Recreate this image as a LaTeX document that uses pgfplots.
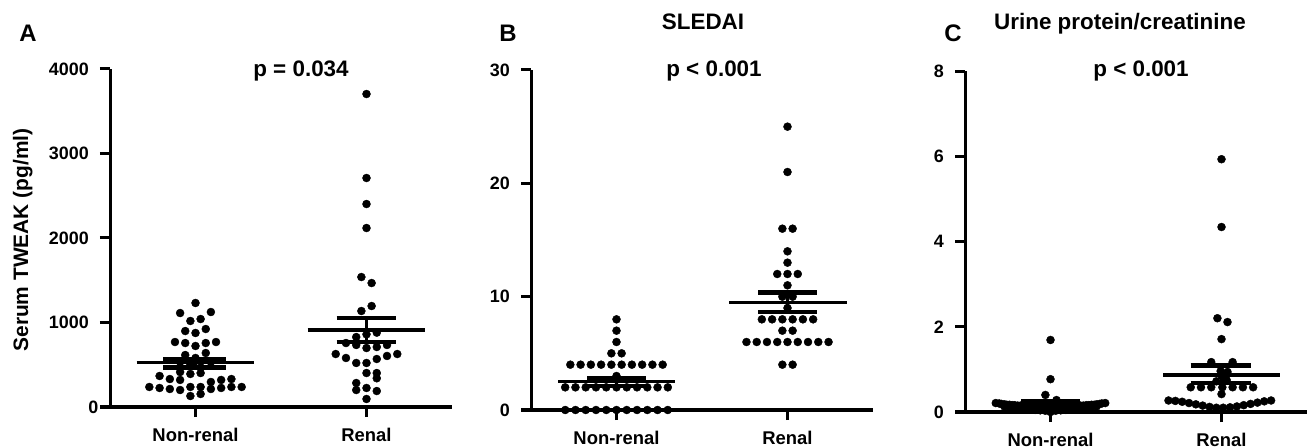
\documentclass[border=0pt]{standalone}
\usepackage{fontspec}
\setmainfont{Liberation Sans}
\usepackage{pgfplots}
\pgfplotsset{compat=1.18}

\newcommand{\tl}[1]{{\bfseries\fontsize{18}{18}\selectfont #1}}

\pgfplotsset{
  swarm/.style={
    scale only axis, width=342bp, xmin=-0.5, xmax=1.5, ymin=0,
    anchor=south west, clip=false,
    axis x line*=bottom, axis y line*=left,
    axis line style={line width=3bp, black},
    tick style={line width=3bp, black},
    major tick length=10bp, tick align=outside,
    xtick={0,1}, xticklabels={Non-renal,Renal},
    scaled y ticks=false,
    yticklabel style={inner sep=0pt, xshift=-11bp},
    xticklabel style={font=\bfseries\fontsize{18.5}{18.5}\selectfont, inner sep=0pt, yshift=-10.5bp},
  },
  dots/.style={only marks, mark=*, mark size=4bp, black},
  meanln/.style={line width=3.3bp, black},
  semln/.style={line width=4.2bp, black},
  vln/.style={line width=3bp, black},
}

\begin{document}
\begin{tikzpicture}
\useasboundingbox (0,0) rectangle (1307bp,448bp);

% ---------- A: serum TWEAK ----------
\begin{axis}[swarm, at={(110bp,41bp)}, height=338bp, ymax=4000,
  ytick={0,1000,2000,3000,4000},
  yticklabels={\tl{0\hspace*{-10bp}},\tl{1000},\tl{2000},\tl{3000},\tl{4000}}]
\addplot[dots] coordinates {
  (0,1231) (-0.09,1112) (0.09,1124) (-0.03,1018) (0.03,1041)
  (-0.06,899) (0,876) (0.06,923)
  (-0.12,769) (-0.06,757) (0,722) (0.06,757) (0.12,769)
  (-0.06,615) (0.06,639) (0,580) (-0.09,533) (0.09,533) (-0.03,500) (0.03,470)
  (-0.09,414) (-0.03,391) (0.03,402)
  (-0.21,367) (-0.15,331) (-0.09,320) (0.09,296) (0.15,320) (0.21,331)
  (-0.27,237) (-0.21,225) (-0.15,213) (-0.09,201) (-0.03,237) (0.03,237)
  (0.09,213) (0.15,225) (0.21,237) (0.27,237)
  (-0.03,130) (0.03,154)
};
\addplot[dots] coordinates {
  (1,3704) (1,2710) (1,2402) (1,2118)
  (0.97,1538) (1.03,1467) (0.97,1136) (1.03,1195)
  (0.94,828) (1,860) (1.06,880)
  (0.88,757) (0.94,734) (1,698) (1.06,710) (1.12,734)
  (0.82,627) (0.88,580) (0.94,521) (1,521) (1.06,568) (1.12,604) (1.18,627)
  (1,402) (1.06,402) (1.06,340)
  (0.94,284) (0.94,201) (1,225) (1.06,189) (1,95)
};
\addplot[meanln] coordinates {(-0.345,525) (0.345,525)};
\addplot[semln] coordinates {(-0.19,562) (0.18,562)};
\addplot[semln] coordinates {(-0.19,467) (0.18,467)};
\addplot[vln] coordinates {(0,467) (0,562)};
\addplot[meanln] coordinates {(0.655,911) (1.345,911)};
\addplot[semln] coordinates {(0.825,1053) (1.17,1053)};
\addplot[semln] coordinates {(0.825,769) (1.17,769)};
\addplot[vln] coordinates {(1,769) (1,1053)};
\end{axis}

% ---------- B: SLEDAI ----------
\begin{axis}[swarm, at={(531bp,38bp)}, height=340bp, ymax=30,
  ytick={0,10,20,30}, yticklabels={\tl{0},\tl{10},\tl{20},\tl{30}}]
\addplot[dots] coordinates {
  (-0.30,0) (-0.24,0) (-0.18,0) (-0.12,0) (-0.06,0) (0,0) (0.06,0) (0.12,0) (0.18,0) (0.24,0) (0.30,0)
  (-0.30,2) (-0.24,2) (-0.18,2) (-0.12,2) (-0.06,2) (0,2) (0.06,2) (0.12,2) (0.18,2) (0.24,2) (0.30,2)
  (0,3)
  (-0.27,4) (-0.21,4) (-0.15,4) (-0.09,4) (-0.03,4) (0.03,4) (0.09,4) (0.15,4) (0.21,4) (0.27,4)
  (-0.03,5) (0.03,5) (0,6) (0,7) (0,8)
};
\addplot[dots] coordinates {
  (1,25) (1,21) (0.97,16) (1.03,16) (1,14) (1,13)
  (0.94,12) (1,12) (1.06,12) (1,11) (0.97,10) (1.03,10) (1,9)
  (0.85,8) (0.91,8) (0.97,8) (1.03,8) (1.09,8) (1.15,8)
  (0.97,7) (1.03,7)
  (0.76,6) (0.82,6) (0.88,6) (0.94,6) (1,6) (1.06,6) (1.12,6) (1.18,6) (1.24,6)
  (0.97,4) (1.03,4)
};
\addplot[meanln] coordinates {(-0.34,2.5) (0.34,2.5)};
\addplot[semln] coordinates {(-0.17,2.85) (0.175,2.85)};
\addplot[semln] coordinates {(-0.17,2.15) (0.175,2.15)};
\addplot[vln] coordinates {(0,2.15) (0,2.85)};
\addplot[meanln] coordinates {(0.66,9.51) (1.345,9.51)};
\addplot[semln] coordinates {(0.83,10.36) (1.17,10.36)};
\addplot[semln] coordinates {(0.83,8.68) (1.17,8.68)};
\addplot[vln] coordinates {(1,8.68) (1,10.36)};
\end{axis}

% ---------- C: urine protein/creatinine ----------
\begin{axis}[swarm, at={(965bp,36bp)}, height=341bp, ymax=8,
  ytick={0,2,4,6,8}, yticklabels={\tl{0},\tl{2},\tl{4},\tl{6},\tl{8}}]
\addplot[dots] coordinates {
  (-0.32,0.21) (-0.30,0.20) (-0.288,0.19) (-0.27,0.18) (-0.256,0.17) (-0.24,0.17) (-0.224,0.16)
  (-0.21,0.16) (-0.192,0.15) (-0.175,0.15) (-0.16,0.14) (-0.145,0.14)
  (-0.128,0.13) (-0.11,0.13) (-0.096,0.12) (-0.08,0.12) (-0.064,0.12) (-0.048,0.11) (-0.032,0.11) (-0.016,0.11) (0,0.11)
  (0.016,0.11) (0.032,0.11) (0.048,0.11) (0.064,0.12) (0.08,0.12) (0.096,0.12) (0.11,0.13) (0.128,0.13)
  (0.145,0.14) (0.16,0.14) (0.175,0.15) (0.192,0.15) (0.21,0.16) (0.224,0.16) (0.24,0.17)
  (0.256,0.17) (0.27,0.18) (0.288,0.19) (0.30,0.20) (0.32,0.21)
  (-0.27,0.13) (-0.24,0.11) (-0.21,0.10) (-0.18,0.08) (-0.15,0.07) (-0.12,0.06) (-0.09,0.05)
  (-0.06,0.04) (-0.03,0.03) (0,0.0)
  (0.03,0.03) (0.06,0.04) (0.09,0.05) (0.12,0.06) (0.15,0.07) (0.18,0.08) (0.21,0.10)
  (0.24,0.11) (0.27,0.13)
  (0,1.69) (0,0.77) (-0.03,0.40) (0.035,0.28)
};
\addplot[dots] coordinates {
  (1,5.93) (1,4.34) (0.976,2.20) (1.035,2.11) (1,1.71)
  (0.94,1.17) (1.065,1.17) (0.995,0.96) (1.035,0.94) (1,0.85) (0.97,0.72) (1.03,0.75)
  (0.82,0.58) (0.88,0.58) (0.94,0.58) (1.005,0.58) (1.065,0.58) (1.125,0.58) (1.185,0.58)
  (1,0.42)
  (0.69,0.27) (0.73,0.26) (0.77,0.24) (0.81,0.21) (0.85,0.18) (0.89,0.15) (0.93,0.12) (0.97,0.10)
  (1.01,0.10) (1.05,0.11) (1.09,0.13) (1.13,0.16) (1.17,0.19) (1.21,0.22) (1.25,0.25) (1.29,0.27)
};
\addplot[meanln] coordinates {(-0.34,0.20) (0.34,0.20)};
\addplot[semln] coordinates {(-0.17,0.26) (0.17,0.26)};
\addplot[semln] coordinates {(-0.17,0.14) (0.17,0.14)};
\addplot[vln] coordinates {(0,0.14) (0,0.26)};
\addplot[meanln] coordinates {(0.66,0.87) (1.34,0.87)};
\addplot[semln] coordinates {(0.82,1.09) (1.17,1.09)};
\addplot[semln] coordinates {(0.82,0.68) (1.17,0.68)};
\addplot[vln] coordinates {(1,0.68) (1,1.09)};
\end{axis}

% ---------- text ----------
\begin{scope}[every node/.style={inner sep=0pt}]
\node[anchor=base, font=\bfseries\fontsize{24}{24}\selectfont] at (28bp,406bp) {A};
\node[anchor=base, font=\bfseries\fontsize{24}{24}\selectfont] at (508bp,406bp) {B};
\node[anchor=base, font=\bfseries\fontsize{24}{24}\selectfont] at (953bp,406bp) {C};
\node[anchor=base, font=\bfseries\fontsize{22.5}{22.5}\selectfont] at (703bp,418bp) {SLEDAI};
\node[anchor=base, font=\bfseries\fontsize{22.5}{22.5}\selectfont] at (1120bp,418.5bp) {Urine protein/creatinine};
\node[anchor=base, font=\bfseries\fontsize{22.5}{22.5}\selectfont] at (301bp,371bp) {p = 0.034};
\node[anchor=base, font=\bfseries\fontsize{22.5}{22.5}\selectfont] at (714bp,371bp) {p < 0.001};
\node[anchor=base, font=\bfseries\fontsize{22.5}{22.5}\selectfont] at (1141bp,371bp) {p < 0.001};
\node[anchor=base, rotate=90, font=\bfseries\fontsize{21}{21}\selectfont] at (28bp,208bp) {Serum TWEAK (pg/ml)};
\end{scope}
\end{tikzpicture}
\end{document}
